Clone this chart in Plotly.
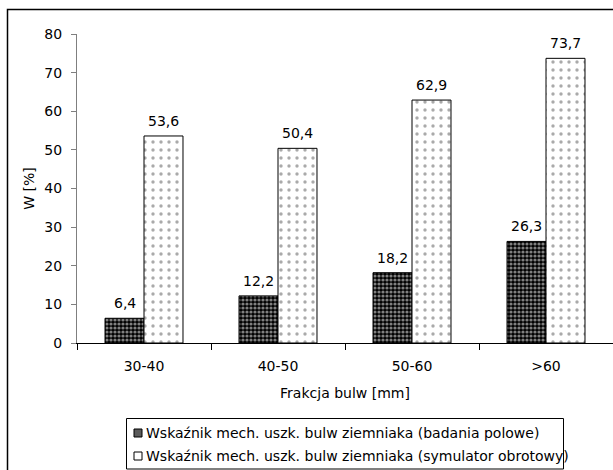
import plotly.graph_objects as go

# Tuber fraction classes and damage index values [%]
categories = ["30-40", "40-50", "50-60", ">60"]
field_values = [6.4, 12.2, 18.2, 26.3]
simulator_values = [53.6, 50.4, 62.9, 73.7]
series_names = [
    "Wskaźnik mech. uszk. bulw ziemniaka (badania polowe)",
    "Wskaźnik mech. uszk. bulw ziemniaka (symulator obrotowy)",
]
y_ticks = [0, 10, 20, 30, 40, 50, 60, 70, 80]

FONT = "DejaVu Sans, Liberation Sans, Arial, sans-serif"
FS = 14

W, H = 613, 470
L, R, T, B = 77, 0, 34, 127
PW, PH = W - L - R, H - T - B


def px_x(px):
    return (px - L) / PW


def px_y(py):
    return (H - B - py) / PH


fig = go.Figure()

fig.add_trace(go.Bar(
    x=categories, y=field_values, name=series_names[0],
    marker=dict(
        color="black",
        line=dict(color="black", width=1),
        pattern=dict(shape=".", fgcolor="white", bgcolor="black", size=4, solidity=0.5),
    ),
))
fig.add_trace(go.Bar(
    x=categories, y=simulator_values, name=series_names[1],
    marker=dict(
        color="white",
        line=dict(color="black", width=1),
        pattern=dict(shape=".", fgcolor="#555555", bgcolor="white", size=8, solidity=0.14),
    ),
))

# value labels above each bar
bar_half = 19.5
for vals, shift in ((field_values, -bar_half), (simulator_values, bar_half)):
    for c, v in zip(categories, vals):
        fig.add_annotation(
            x=c, y=v, text=f"{v:.1f}".replace(".", ","),
            xref="x", yref="y", showarrow=False,
            xshift=shift, yshift=15, yanchor="middle",
            font=dict(family=FONT, size=FS, color="black"),
        )

# outer frame
fig.add_shape(type="rect", xref="paper", yref="paper",
              x0=px_x(7.5), x1=px_x(W + 5), y0=px_y(H + 5), y1=px_y(9.5),
              line=dict(color="black", width=1.5), fillcolor="rgba(0,0,0,0)", layer="below")

# legend box
fig.add_shape(type="rect", xref="paper", yref="paper",
              x0=px_x(126.5), x1=px_x(563.5), y0=px_y(469), y1=px_y(418.5),
              line=dict(color="black", width=1), fillcolor="white", layer="above")

legend_rows = [433, 456]
swatch_fill = ["#5a5a5a", "white"]
for name, ry, fillc in zip(series_names, legend_rows, swatch_fill):
    fig.add_shape(type="rect", xref="paper", yref="paper",
                  x0=px_x(134), x1=px_x(142), y0=px_y(ry + 4), y1=px_y(ry - 4),
                  line=dict(color="black", width=1), fillcolor=fillc)
    fig.add_annotation(
        x=px_x(143.5), y=px_y(ry), xref="paper", yref="paper",
        text=name, showarrow=False, xanchor="left", yanchor="middle",
        font=dict(family=FONT, size=FS, color="black"),
    )

fig.update_layout(
    width=W, height=H,
    margin=dict(l=L, r=R, t=T, b=B),
    paper_bgcolor="white", plot_bgcolor="white",
    barmode="group", bargap=0.418, bargroupgap=0,
    showlegend=False,
    font=dict(family=FONT, size=FS, color="black"),
    xaxis=dict(
        type="category", showline=True, linecolor="black", linewidth=1,
        ticks="outside", tickson="boundaries", ticklen=6, tickcolor="black",
        ticklabelstandoff=10, showgrid=False, zeroline=False,
        title=dict(text="Frakcja bulw [mm]", standoff=15,
                   font=dict(family=FONT, size=FS)),
        tickfont=dict(family=FONT, size=FS),
    ),
    yaxis=dict(
        range=[0, 80], tickvals=y_ticks, showline=True, linecolor="#7f7f7f",
        linewidth=1, ticks="outside", ticklen=5, tickcolor="#7f7f7f",
        ticklabelstandoff=6, showgrid=False, zeroline=False,
        title=dict(text="W [%]", standoff=6, font=dict(family=FONT, size=FS)),
        tickfont=dict(family=FONT, size=FS),
    ),
)

fig.write_html("out.html")
